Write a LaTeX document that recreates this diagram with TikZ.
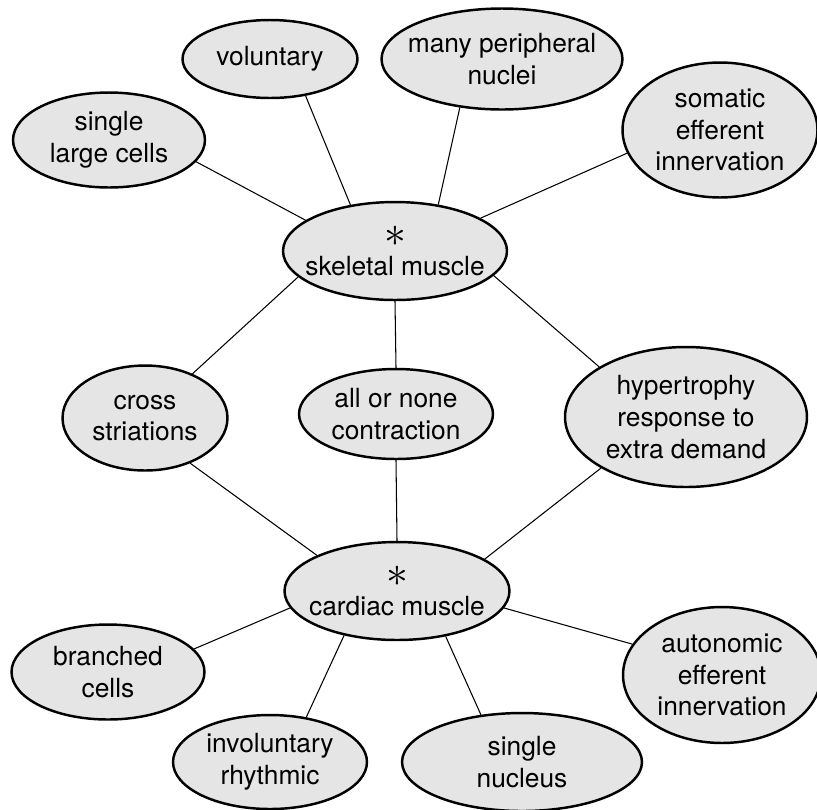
\documentclass[tikz,border=0pt]{standalone}
\usepackage{fontspec}
\setmainfont{TeX Gyre Heros}
\usetikzlibrary{shapes.geometric}
\definecolor{bubbleGray}{HTML}{E5E5E5}

\begin{document}
\begin{tikzpicture}[x=0.02cm, y=0.02cm,
    bubble/.style 2 args={draw, ellipse, line width=1.4pt, fill=bubbleGray, inner sep=0pt, minimum width=#1, minimum height=#2},
    every label/.style={align=center, font=\fontsize{15pt}{18pt}\selectfont},
    link/.style={line width=0.6pt}]
  \useasboundingbox (0,0) rectangle (817,-809);
  % the two muscle types
  \node[bubble={4.48cm}{1.96cm}, label={center:{\fontsize{27pt}{27pt}\selectfont$\ast$}\\[-2pt]skeletal muscle}] (skel) at (395,-251) {};
  \node[bubble={4.5cm}{1.96cm}, label={center:{\fontsize{27pt}{27pt}\selectfont$\ast$}\\[-2pt]cardiac muscle}] (card) at (397,-591) {};
  % skeletal only
  \node[bubble={3.84cm}{1.9cm}, label={center:single\\large cells}] (large) at (109,-140) {};
  \node[bubble={3.5cm}{1.56cm}, label={center:voluntary}] (vol) at (270,-59) {};
  \node[bubble={4.82cm}{2.02cm}, label={center:many peripheral\\nuclei}] (nuclei) at (502,-59) {};
  \node[bubble={3.9cm}{2.7cm}, label={center:somatic\\efferent\\innervation}] (somatic) at (720,-130) {};
  % shared
  \node[bubble={3.3cm}{2.1cm}, label={center:cross\\striations}] (cross) at (145,-418) {};
  \node[bubble={3.88cm}{1.8cm}, label={center:all or none\\contraction}] (allnone) at (396,-414) {};
  \node[bubble={4.84cm}{2.8cm}, label={center:hypertrophy\\response to\\extra demand}] (hyper) at (686,-417) {};
  % cardiac only
  \node[bubble={3.86cm}{1.9cm}, label={center:branched\\cells}] (branch) at (108,-672) {};
  \node[bubble={3.96cm}{2.72cm}, label={center:autonomic\\efferent\\innervation}] (auto) at (722,-675) {};
  \node[bubble={3.88cm}{1.88cm}, label={center:involuntary\\rhythmic}] (invol) at (270,-762) {};
  \node[bubble={4.8cm}{1.96cm}, label={center:single\\nucleus}] (single) at (522,-762) {};

  \draw[link] (large.-14) -- (skel.161);
  \draw[link] (vol.-46) -- (skel.134);
  \draw[link] (nuclei.-131) -- (skel.47);
  \draw[link] (somatic.-166) -- (skel.21);
  \draw[link] (skel.-165) -- (cross.43);
  \draw[link] (skel.-90) -- (allnone.90);
  \draw[link] (skel.-14) -- (hyper.150);
  \draw[link] (cross.-45) -- (card.156);
  \draw[link] (allnone.-90) -- (card.90);
  \draw[link] (hyper.-149) -- (card.20);
  \draw[link] (card.-171) -- (branch.15);
  \draw[link] (card.-140) -- (invol.51);
  \draw[link] (card.-43) -- (single.131);
  \draw[link] (card.-9) -- (auto.161);
\end{tikzpicture}
\end{document}
